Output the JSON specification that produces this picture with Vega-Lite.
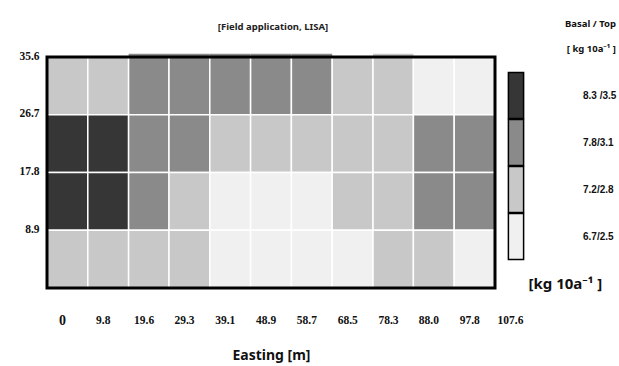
{
  "$schema": "https://vega.github.io/schema/vega-lite/v6.json",
  "width": 448,
  "height": 231,
  "autosize": {"type": "none"},
  "padding": {"left": 47, "top": 57, "right": 124, "bottom": 78},
  "background": "white",
  "title": {
    "text": "[Field application,  LISA]",
    "font": "Noto Sans",
    "fontSize": 9.5,
    "fontWeight": "bold",
    "color": "#222",
    "anchor": "middle",
    "frame": "group",
    "offset": -12,
    "dx": 2
  },
  "config": {
    "view": {"stroke": null},
    "axis": {"grid": false, "ticks": false, "domain": false}
  },
  "datasets": {
    "cells": [
      {"e0": 0, "e1": 9.8, "n0": 26.7, "n1": 35.6, "rate": "7.2/2.8"},
      {"e0": 9.8, "e1": 19.6, "n0": 26.7, "n1": 35.6, "rate": "7.2/2.8"},
      {"e0": 19.6, "e1": 29.3, "n0": 26.7, "n1": 35.6, "rate": "7.8/3.1"},
      {"e0": 29.3, "e1": 39.1, "n0": 26.7, "n1": 35.6, "rate": "7.8/3.1"},
      {"e0": 39.1, "e1": 48.9, "n0": 26.7, "n1": 35.6, "rate": "7.8/3.1"},
      {"e0": 48.9, "e1": 58.7, "n0": 26.7, "n1": 35.6, "rate": "7.8/3.1"},
      {"e0": 58.7, "e1": 68.5, "n0": 26.7, "n1": 35.6, "rate": "7.8/3.1"},
      {"e0": 68.5, "e1": 78.3, "n0": 26.7, "n1": 35.6, "rate": "7.2/2.8"},
      {"e0": 78.3, "e1": 88.0, "n0": 26.7, "n1": 35.6, "rate": "7.2/2.8"},
      {"e0": 88.0, "e1": 97.8, "n0": 26.7, "n1": 35.6, "rate": "6.7/2.5"},
      {"e0": 97.8, "e1": 107.6, "n0": 26.7, "n1": 35.6, "rate": "6.7/2.5"},
      {"e0": 0, "e1": 9.8, "n0": 17.8, "n1": 26.7, "rate": "8.3 /3.5"},
      {"e0": 9.8, "e1": 19.6, "n0": 17.8, "n1": 26.7, "rate": "8.3 /3.5"},
      {"e0": 19.6, "e1": 29.3, "n0": 17.8, "n1": 26.7, "rate": "7.8/3.1"},
      {"e0": 29.3, "e1": 39.1, "n0": 17.8, "n1": 26.7, "rate": "7.8/3.1"},
      {"e0": 39.1, "e1": 48.9, "n0": 17.8, "n1": 26.7, "rate": "7.2/2.8"},
      {"e0": 48.9, "e1": 58.7, "n0": 17.8, "n1": 26.7, "rate": "7.2/2.8"},
      {"e0": 58.7, "e1": 68.5, "n0": 17.8, "n1": 26.7, "rate": "7.2/2.8"},
      {"e0": 68.5, "e1": 78.3, "n0": 17.8, "n1": 26.7, "rate": "7.2/2.8"},
      {"e0": 78.3, "e1": 88.0, "n0": 17.8, "n1": 26.7, "rate": "7.2/2.8"},
      {"e0": 88.0, "e1": 97.8, "n0": 17.8, "n1": 26.7, "rate": "7.8/3.1"},
      {"e0": 97.8, "e1": 107.6, "n0": 17.8, "n1": 26.7, "rate": "7.8/3.1"},
      {"e0": 0, "e1": 9.8, "n0": 8.9, "n1": 17.8, "rate": "8.3 /3.5"},
      {"e0": 9.8, "e1": 19.6, "n0": 8.9, "n1": 17.8, "rate": "8.3 /3.5"},
      {"e0": 19.6, "e1": 29.3, "n0": 8.9, "n1": 17.8, "rate": "7.8/3.1"},
      {"e0": 29.3, "e1": 39.1, "n0": 8.9, "n1": 17.8, "rate": "7.2/2.8"},
      {"e0": 39.1, "e1": 48.9, "n0": 8.9, "n1": 17.8, "rate": "6.7/2.5"},
      {"e0": 48.9, "e1": 58.7, "n0": 8.9, "n1": 17.8, "rate": "6.7/2.5"},
      {"e0": 58.7, "e1": 68.5, "n0": 8.9, "n1": 17.8, "rate": "6.7/2.5"},
      {"e0": 68.5, "e1": 78.3, "n0": 8.9, "n1": 17.8, "rate": "7.2/2.8"},
      {"e0": 78.3, "e1": 88.0, "n0": 8.9, "n1": 17.8, "rate": "7.2/2.8"},
      {"e0": 88.0, "e1": 97.8, "n0": 8.9, "n1": 17.8, "rate": "7.8/3.1"},
      {"e0": 97.8, "e1": 107.6, "n0": 8.9, "n1": 17.8, "rate": "7.8/3.1"},
      {"e0": 0, "e1": 9.8, "n0": 0, "n1": 8.9, "rate": "7.2/2.8"},
      {"e0": 9.8, "e1": 19.6, "n0": 0, "n1": 8.9, "rate": "7.2/2.8"},
      {"e0": 19.6, "e1": 29.3, "n0": 0, "n1": 8.9, "rate": "7.2/2.8"},
      {"e0": 29.3, "e1": 39.1, "n0": 0, "n1": 8.9, "rate": "7.2/2.8"},
      {"e0": 39.1, "e1": 48.9, "n0": 0, "n1": 8.9, "rate": "6.7/2.5"},
      {"e0": 48.9, "e1": 58.7, "n0": 0, "n1": 8.9, "rate": "6.7/2.5"},
      {"e0": 58.7, "e1": 68.5, "n0": 0, "n1": 8.9, "rate": "6.7/2.5"},
      {"e0": 68.5, "e1": 78.3, "n0": 0, "n1": 8.9, "rate": "6.7/2.5"},
      {"e0": 78.3, "e1": 88.0, "n0": 0, "n1": 8.9, "rate": "7.2/2.8"},
      {"e0": 88.0, "e1": 97.8, "n0": 0, "n1": 8.9, "rate": "7.2/2.8"},
      {"e0": 97.8, "e1": 107.6, "n0": 0, "n1": 8.9, "rate": "6.7/2.5"}
    ],
    "strip": [
      {"e0": 19.6, "e1": 29.3, "n0": 35.6, "n1": 36.1, "rate": "7.8/3.1"},
      {"e0": 29.3, "e1": 39.1, "n0": 35.6, "n1": 36.1, "rate": "7.8/3.1"},
      {"e0": 39.1, "e1": 48.9, "n0": 35.6, "n1": 36.1, "rate": "7.8/3.1"},
      {"e0": 48.9, "e1": 58.7, "n0": 35.6, "n1": 36.1, "rate": "7.8/3.1"},
      {"e0": 58.7, "e1": 68.5, "n0": 35.6, "n1": 36.1, "rate": "7.8/3.1"},
      {"e0": 78.3, "e1": 88.0, "n0": 35.6, "n1": 36.1, "rate": "7.2/2.8"}
    ],
    "frame": [
      {"e0": 0, "e1": 107.6, "n0": 0, "n1": 35.6}
    ],
    "unit": [
      {"label": "[kg 10a⁻¹ ]", "e": 124.5, "n": 0.6}
    ]
  },
  "layer": [
    {
      "data": {"name": "cells"},
      "mark": {"type": "rect", "stroke": "#ffffff", "strokeWidth": 1.5},
      "encoding": {
        "x": {
          "field": "e0",
          "type": "quantitative",
          "scale": {"domain": [0, 107.6], "nice": false, "zero": false},
          "axis": {
            "values": [0, 9.8, 19.6, 29.3, 39.1, 48.9, 58.7, 68.5, 78.3, 88.0, 97.8, 107.6],
            "format": ".1~f",
            "labelExpr": "datum.value == 0 ? '0' : (datum.value == 88 ? '88.0' : datum.label)",
            "labelFlush": false,
            "labelOverlap": false,
            "labelOffset": 15,
            "labelPadding": 32,
            "labelFont": "Liberation Serif",
            "labelFontWeight": "bold",
            "labelFontSize": {"condition": {"test": "datum.value == 0", "value": 14}, "value": 11.5},
            "labelColor": "#111",
            "labelBaseline": "middle",
            "title": "Easting [m]",
            "titleFont": "Noto Sans",
            "titleFontSize": 14,
            "titleFontWeight": "bold",
            "titleColor": "#111",
            "titlePadding": 21
          }
        },
        "x2": {"field": "e1"},
        "y": {
          "field": "n0",
          "type": "quantitative",
          "scale": {"domain": [0, 35.6], "nice": false, "zero": false},
          "axis": {
            "values": [8.9, 17.8, 26.7, 35.6],
            "format": ".1f",
            "labelPadding": 8,
            "labelOffset": -1,
            "labelFont": "Liberation Serif",
            "labelFontWeight": "bold",
            "labelFontSize": 11.5,
            "labelColor": "#111",
            "title": null
          }
        },
        "y2": {"field": "n1"},
        "color": {
          "field": "rate",
          "type": "nominal",
          "scale": {
            "domain": ["8.3 /3.5", "7.8/3.1", "7.2/2.8", "6.7/2.5"],
            "range": ["#363636", "#8a8a8a", "#c8c8c8", "#f0f0f0"]
          },
          "legend": {
            "orient": "none",
            "legendX": 448,
            "legendY": -38,
            "title": ["Basal / Top", "[ kg 10a⁻¹ ]"],
            "titleFont": "Noto Sans",
            "titleFontSize": 9.5,
            "titleFontWeight": "bold",
            "titleColor": "#111",
            "titleLineHeight": 25,
            "titleAnchor": "end",
            "titlePadding": 21,
            "symbolType": "M-0.38,-1.15H0.38V1.15H-0.38Z",
            "symbolSize": 1600,
            "symbolStrokeColor": "#000",
            "symbolStrokeWidth": 1.5,
            "symbolOpacity": 1,
            "rowPadding": -6,
            "labelOffset": 46,
            "labelFont": "Liberation Sans",
            "labelFontSize": 10,
            "labelFontWeight": "bold",
            "labelColor": "#111"
          }
        }
      }
    },
    {
      "data": {"name": "strip"},
      "mark": {"type": "rect", "strokeWidth": 0},
      "encoding": {
        "x": {"field": "e0", "type": "quantitative"},
        "x2": {"field": "e1"},
        "y": {"field": "n0", "type": "quantitative"},
        "y2": {"field": "n1"},
        "color": {"field": "rate", "type": "nominal"}
      }
    },
    {
      "data": {"name": "frame"},
      "mark": {"type": "rect", "fill": null, "fillOpacity": 0, "stroke": "#000", "strokeWidth": 3},
      "encoding": {
        "x": {"field": "e0", "type": "quantitative"},
        "x2": {"field": "e1"},
        "y": {"field": "n0", "type": "quantitative"},
        "y2": {"field": "n1"}
      }
    },
    {
      "data": {"name": "unit"},
      "mark": {
        "type": "text",
        "font": "Noto Sans",
        "fontSize": 15,
        "fontWeight": "bold",
        "color": "#111",
        "align": "center",
        "baseline": "middle"
      },
      "encoding": {
        "x": {"field": "e", "type": "quantitative"},
        "y": {"field": "n", "type": "quantitative"},
        "text": {"field": "label"}
      }
    }
  ]
}
